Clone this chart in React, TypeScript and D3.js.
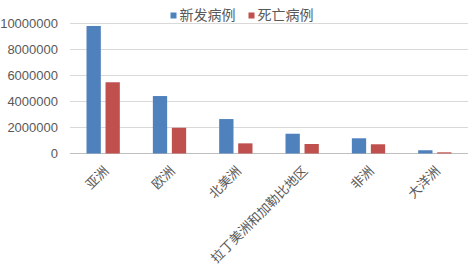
import React from "react";
import * as d3 from "d3";

const categories = ["亚洲", "欧洲", "北美洲", "拉丁美洲和加勒比地区", "非洲", "大洋洲"];
const seriesNames = ["新发病例", "死亡病例"];
const newCases = [9810000, 4420000, 2650000, 1520000, 1170000, 250000];
const deaths = [5480000, 1980000, 780000, 730000, 710000, 90000];
const yTicks = [0, 2000000, 4000000, 6000000, 8000000, 10000000];
const colors = ["#4f81bd", "#c0504d"];

const W = 474, H = 269;
const left = 70, right = 468, top = 23.5, bottom = 153.5;

export default function App() {
  const x = d3.scaleBand<string>().domain(categories).range([left, right]).padding(0);
  const y = d3.scaleLinear().domain([0, 10000000]).range([bottom, top]);
  const bw = 14.3, gap = 4.7;
  const series = [newCases, deaths];
  const cjk = "'Noto Sans CJK SC', sans-serif";
  return (
    <div style={{ position: "absolute", left: 0, top: 0 }}>
      <svg width={W} height={H} style={{ display: "block", background: "#fff" }}>
        {yTicks.map((t) => (
          <g key={t}>
            <line x1={left} x2={right} y1={y(t)} y2={y(t)} stroke={t === 0 ? "#bfbfbf" : "#d9d9d9"} strokeWidth={1} />
            <text x={58} y={y(t)} dy="0.35em" textAnchor="end" fontSize={13} fill="#595959" fontFamily="'Liberation Sans', Arial, sans-serif">
              {t}
            </text>
          </g>
        ))}
        {categories.map((c, i) => {
          const cx = (x(c) as number) + x.bandwidth() / 2;
          return (
            <g key={c}>
              {series.map((s, k) => {
                const bx = k === 0 ? cx - gap / 2 - bw : cx + gap / 2;
                return (
                  <rect key={k} x={bx} y={y(s[i])} width={bw} height={bottom - y(s[i])} fill={colors[k]} />
                );
              })}
              <text
                transform={`translate(${cx + 3},${bottom + 15}) rotate(-45)`}
                textAnchor="end"
                dy="0.35em"
                fontSize={13}
                fill="#595959"
                fontFamily={cjk}
              >
                {c}
              </text>
            </g>
          );
        })}
        {seriesNames.map((n, k) => {
          const lx = k === 0 ? 170.5 : 248.5;
          return (
            <g key={n}>
              <rect x={lx} y={12.5} width={6} height={6} fill={colors[k]} />
              <text x={lx + 9} y={15.5} dy="0.35em" fontSize={14} fill="#595959" fontFamily={cjk}>
                {n}
              </text>
            </g>
          );
        })}
      </svg>
    </div>
  );
}
